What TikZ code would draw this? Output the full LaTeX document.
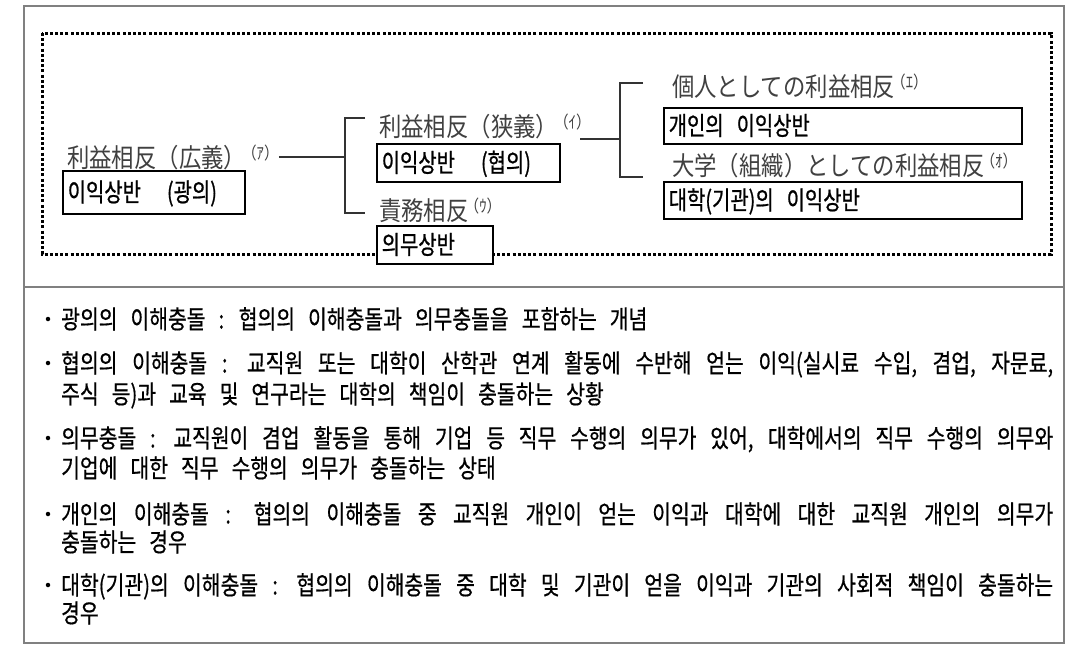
\documentclass[tikz,border=0pt]{standalone}
\usepackage{fontspec}
\newfontfamily\jpfont[FakeStretch=0.86]{Noto Sans CJK JP}
\newfontfamily\krfont[FakeStretch=0.8,FakeBold=0.6]{Noto Sans CJK KR}
\newfontfamily\krboxfont[FakeStretch=0.78,FakeBold=0.8]{Noto Sans CJK KR}
\newcommand\sups[1]{\kern-4pt\raisebox{8.5pt}{\fontsize{17pt}{17pt}\selectfont （#1）}}
\newcommand\boxsp{\spaceskip=13pt plus 4pt minus 2pt\relax}
\newcommand\tightsp{\spaceskip=11.5pt plus 8pt minus 4pt\relax}
\newcommand\loosesp{\spaceskip=13pt plus 4pt minus 2pt\relax}
\tikzset{
 frame/.style={draw=black!50, line width=1.2pt},
 dotbox/.style={draw=black, line width=3pt, dash pattern=on 3pt off 2.2pt},
 conn/.style={draw=black!80, line width=1.6pt},
 jplabel/.style={inner sep=0pt, anchor=base west, text=black!75, font=\jpfont\fontsize{26pt}{30pt}\selectfont},
 kbox/.style={draw=black, fill=white, line width=1.5pt, inner xsep=5pt, inner ysep=0pt, text height=19pt, text depth=0.5pt, anchor=north west, font=\krboxfont\fontsize{25.5pt}{30pt}\selectfont},
 bodyline/.style={inner sep=0pt, anchor=base west, font=\krfont\fontsize{25.5pt}{30pt}\selectfont},
 bulletdot/.style={circle, fill=black, inner sep=0pt, minimum size=4.5pt},
}
\begin{document}
\begin{tikzpicture}[x=1pt,y=-1pt]
\useasboundingbox (0,0) rectangle (1087,654);
% outer frame
\draw[frame] (24,6) rectangle (1064,643);
\draw[frame] (24,287) -- (1064,287);
% dotted box
\draw[dotbox] (42,33) rectangle (1051,254);

% labels
\node[jplabel] (L1) at (67,167.5) {利益相反（広義）\sups{ｱ}};
\node[jplabel] (L2) at (379,136.5) {利益相反（狭義）\sups{ｲ}};
\node[jplabel] (L3) at (379,220.5) {責務相反\sups{ｳ}};
\node[jplabel] (L4) at (672,96.5) {個人としての利益相反\sups{ｴ}};
\node[jplabel] (L5) at (672,175.5) {大学（組織）としての利益相反\sups{ｵ}};

% boxes
\node[kbox, minimum height=43pt] (B1) at (62,170) {\boxsp\makebox[172pt][l]{이익상반~~(광의)}};
\node[kbox, minimum height=38pt] (B2) at (376,143) {\boxsp\makebox[173pt][l]{이익상반~~(협의)}};
\node[kbox, minimum height=38pt] (B3) at (376,225) {\boxsp\makebox[106pt][l]{의무상반}};
\node[kbox, minimum height=36pt] (B4) at (663,107) {\boxsp\makebox[348pt][l]{개인의 이익상반}};
\node[kbox, minimum height=37pt] (B5) at (663,181) {\boxsp\makebox[348pt][l]{대학(기관)의 이익상반}};

% connectors
\coordinate (k1) at (345,157);
\coordinate (k1t) at (365,118);
\coordinate (k1b) at (365,213);
\draw[conn] (L1.east |- k1) -- (k1);
\draw[conn] (k1t) -| (k1) |- (k1b);
\coordinate (k2) at (620,139);
\coordinate (k2in) at (580,139);
\coordinate (k2t) at (643,83);
\coordinate (k2b) at (643,177);
\draw[conn] (k2in) -- (k2);
\draw[conn] (k2t) -| (k2) |- (k2b);

% bottom text
\node[bulletdot] (d1) at (48,319) {};
\node[bulletdot] (d2) at (48,363) {};
\node[bulletdot] (d3) at (48,438) {};
\node[bulletdot] (d4) at (48,514) {};
\node[bulletdot] (d5) at (48,585) {};
\node[bodyline] (t1) at (61,328.5) {\loosesp 광의의 이해충돌 : 협의의 이해충돌과 의무충돌을 포함하는 개념};
\node[bodyline] (t2) at (61,372.5) {\tightsp\makebox[992pt][s]{협의의 이해충돌 : 교직원 또는 대학이 산학관 연계 활동에 수반해 얻는 이익(실시료 수입, 겸업, 자문료,}};
\node[bodyline] (t2b) at (61,403.5) {\loosesp 주식 등)과 교육 및 연구라는 대학의 책임이 충돌하는 상황};
\node[bodyline] (t3) at (61,447.5) {\tightsp\makebox[992pt][s]{의무충돌 : 교직원이 겸업 활동을 통해 기업 등 직무 수행의 의무가 있어, 대학에서의 직무 수행의 의무와}};
\node[bodyline] (t3b) at (61,477.5) {\loosesp 기업에 대한 직무 수행의 의무가 충돌하는 상태};
\node[bodyline] (t4) at (61,523.5) {\tightsp\makebox[992pt][s]{개인의 이해충돌 : 협의의 이해충돌 중 교직원 개인이 얻는 이익과 대학에 대한 교직원 개인의 의무가}};
\node[bodyline] (t4b) at (61,551.5) {\loosesp 충돌하는 경우};
\node[bodyline] (t5) at (61,594.5) {\tightsp\makebox[992pt][s]{대학(기관)의 이해충돌 : 협의의 이해충돌 중 대학 및 기관이 얻을 이익과 기관의 사회적 책임이 충돌하는}};
\node[bodyline] (t5b) at (61,622.5) {\loosesp 경우};
\end{tikzpicture}
\end{document}
